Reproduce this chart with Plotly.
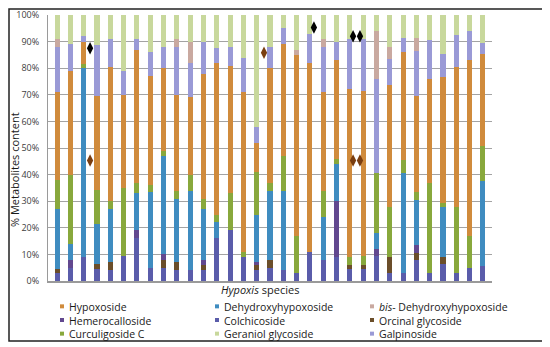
import plotly.graph_objects as go

# ---------------- data ----------------
species_index = list(range(1, 34))  # 33 Hypoxis species (unlabelled on the axis)

colchicoside = [3, 5, 9, 4.4, 4, 9.5, 16, 5, 5, 4, 4, 4, 16, 19, 9, 4, 5, 4, 3, 11, 8, 9, 4.5, 4.5, 9.5, 3, 3, 8, 3, 6.3, 3, 5, 5.7]
orcinal_glycoside = [1.5, 0, 0, 1.9, 3, 0, 0, 0, 3, 3, 0, 2, 0, 0, 0, 2, 3, 0, 0, 0, 0, 0, 1.5, 1.5, 0, 6, 0, 2.6, 0, 2.6, 0, 0, 0]
hemerocalloside = [0, 3, 0, 0, 0, 0, 3, 0, 2, 0, 0, 2, 0, 0, 0, 1, 0, 0, 0, 0, 0, 21, 0, 0, 2.7, 0, 0, 3, 0, 0, 0, 0, 0]
dehydroxyhypoxoside = [22.5, 6, 71, 15.2, 20, 0, 14, 28.6, 37, 24, 30, 19, 6, 0, 0, 18, 26, 30, 0, 0, 16, 14, 0, 0, 5.7, 0, 37.5, 17, 0, 19, 0, 0, 32]
curculigoside_c = [11, 26, 1.5, 12.7, 3, 25.5, 4, 2.5, 2, 3, 6, 4, 3, 14, 2, 16, 3, 13, 14, 0, 10, 2, 3, 3.5, 22.6, 19, 5, 3, 34, 1.4, 25, 12, 13]
hypoxoside = [33, 39, 8.3, 35.5, 50.6, 35, 50, 41, 31, 36, 29, 47, 57, 48, 60, 11, 43, 42, 68, 71, 37, 37, 63, 62, 0, 45.5, 40.5, 36.1, 39, 47.5, 52.6, 66, 34.8]
galpinoside = [17, 10, 2.2, 19, 10.4, 9, 4, 9, 8, 18, 13, 12, 5.5, 7, 13, 6, 8, 6, 0, 11, 17, 7, 19, 19.5, 35.5, 10.1, 5.5, 16.6, 14.6, 8.7, 11.8, 11, 4]
bis_dehydroxyhypoxoside = [3, 0, 0, 0, 0, 0, 0, 0, 0, 3, 8, 0, 0, 0, 0, 0, 0, 0, 2, 0, 3, 0, 0, 0, 17.8, 4.4, 0, 5, 0, 0, 0, 0, 0]
geraniol_glycoside = [9, 11, 8, 11.3, 9, 21, 9, 13.9, 12, 9, 10, 10, 12.5, 12, 16, 42, 12, 5, 13, 7, 9, 10, 9, 9, 6.2, 12, 8.5, 8.7, 9.4, 14.5, 7.6, 6, 10.5]

# diamond markers drawn beside some bars (position in species units, value in %)
black_marker_x = [3.48, 20.3, 23.24, 23.76]
black_marker_y = [87.5, 95.3, 92.0, 92.0]
brown_marker_x = [3.48, 16.55, 23.24, 23.76]
brown_marker_y = [45.3, 85.8, 45.3, 45.3]

y_tick_values = [0, 10, 20, 30, 40, 50, 60, 70, 80, 90, 100]
y_tick_labels = ["0%", "10%", "20%", "30%", "40%", "50%", "60%", "70%", "80%", "90%", "100%"]

# ---------------- styling ----------------
colors = {
    "Colchicoside": "#5A5CAA",
    "Orcinal glycoside": "#6B4E2A",
    "Hemerocalloside": "#62488F",
    "Dehydroxyhypoxoside": "#3F8CC0",
    "Curculigoside C": "#88A83C",
    "Hypoxoside": "#D08B3C",
    "Galpinoside": "#9A9AD6",
    "bis- Dehydroxyhypoxoside": "#C9A9A0",
    "Geraniol glycoside": "#C8D89C",
}

stack = [  # bottom to top
    ("Colchicoside", colchicoside),
    ("Orcinal glycoside", orcinal_glycoside),
    ("Hemerocalloside", hemerocalloside),
    ("Dehydroxyhypoxoside", dehydroxyhypoxoside),
    ("Curculigoside C", curculigoside_c),
    ("Hypoxoside", hypoxoside),
    ("Galpinoside", galpinoside),
    ("bis- Dehydroxyhypoxoside", bis_dehydroxyhypoxoside),
    ("Geraniol glycoside", geraniol_glycoside),
]

legend_columns = [
    ["Hypoxoside", "Hemerocalloside", "Curculigoside C"],
    ["Dehydroxyhypoxoside", "Colchicoside", "Geraniol glycoside"],
    ["bis- Dehydroxyhypoxoside", "Orcinal glycoside", "Galpinoside"],
]

FONT = "'Open Sans', sans-serif"
LEG_SIZE = 10.5

fig = go.Figure()
for name, vals in stack:
    fig.add_trace(go.Bar(
        x=species_index, y=vals, name=name, width=0.38,
        marker=dict(color=colors[name], line=dict(width=0)),
        showlegend=False,
    ))

fig.add_trace(go.Scatter(
    x=black_marker_x, y=black_marker_y, mode="markers", showlegend=False,
    marker=dict(symbol="diamond-tall", size=9, color="#000000"),
))
fig.add_trace(go.Scatter(
    x=brown_marker_x, y=brown_marker_y, mode="markers", showlegend=False,
    marker=dict(symbol="diamond-tall", size=9, color="#7A3E10"),
))

# The page body adds an 8 px offset, so the figure is drawn 8 px smaller and
# every page position P maps to figure position P - OFF.
OFF = 8
W, H = 550 - OFF, 347 - OFF
L, R, T = 48 - OFF, 550 - 492, 15 - OFF
B = H - (281 - OFF)
PW, PH = W - L - R, H - T - B


def px(p):
    return (p - OFF - L) / PW


def py(p):
    return (H - B - (p - OFF)) / PH


annotations = []
shapes = []

# legend: one text block per column + small colour squares
col_marker_x = [62, 217, 372]
legend_center_y = 320
line_h = LEG_SIZE * 1.3
for c, names in enumerate(legend_columns):
    mx = col_marker_x[c]
    for r, name in enumerate(names):
        my = legend_center_y + (r - 1) * line_h
        shapes.append(dict(type="rect", xref="paper", yref="paper",
                           x0=px(mx - 2), x1=px(mx + 2), y0=py(my + 2), y1=py(my - 2),
                           fillcolor=colors[name], line=dict(width=0)))
    text = "<br>".join(n.replace("bis-", "<i>bis</i>-") for n in names)
    annotations.append(dict(xref="paper", yref="paper", x=px(mx + 5), y=py(legend_center_y),
                            xanchor="left", yanchor="middle", align="left", showarrow=False,
                            text=text, font=dict(family=FONT, size=LEG_SIZE, color="#1a1a1a")))

# axis titles
annotations.append(dict(xref="paper", yref="paper", x=px(260), y=py(289), showarrow=False,
                        xanchor="center", yanchor="middle",
                        text="<i>Hypoxis</i> species", font=dict(family=FONT, size=11, color="#1a1a1a")))
annotations.append(dict(xref="paper", yref="paper", x=px(15), y=py(170), showarrow=False,
                        xanchor="center", yanchor="middle", textangle=-90,
                        text="% Metabolites content", font=dict(family=FONT, size=11, color="#1a1a1a")))

# outer frame (as close to the page corner as the figure allows)
shapes.append(dict(type="rect", xref="paper", yref="paper",
                   x0=px(OFF + 1), x1=px(545), y0=py(341), y1=py(OFF + 1),
                   line=dict(color="#222222", width=1.5), fillcolor="rgba(0,0,0,0)", layer="above"))

fig.update_layout(
    width=W, height=H,
    margin=dict(l=L, r=R, t=T, b=B, autoexpand=False),
    barmode="stack", barnorm="percent",
    plot_bgcolor="white", paper_bgcolor="white",
    font=dict(family=FONT, color="#404040"),
    showlegend=False,
    annotations=annotations,
    shapes=shapes,
    xaxis=dict(range=[0.32, 33.68], showticklabels=False, showgrid=False, zeroline=False,
               showline=True, linecolor="#9a9a9a", linewidth=2, ticks="", automargin=False),
    yaxis=dict(range=[0, 100], tickvals=y_tick_values, ticktext=y_tick_labels,
               showgrid=True, gridcolor="#a3a3a3", gridwidth=1, zeroline=False,
               showline=True, linecolor="#9a9a9a", linewidth=1, automargin=False,
               tickfont=dict(family=FONT, size=9, color="#404040"),
               ticklabelstandoff=6),
)

fig.write_html("out.html")
